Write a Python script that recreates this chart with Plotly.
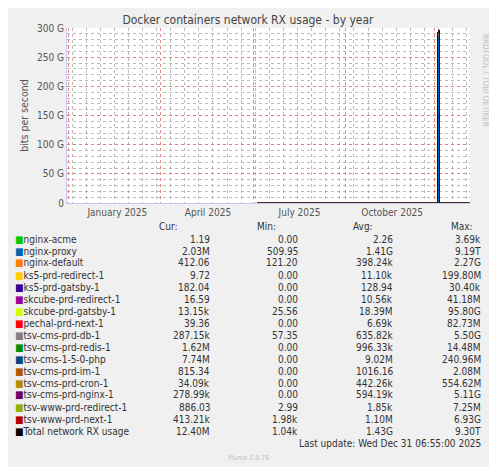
import plotly.graph_objects as go

# Munin "by year" graph: 400 days ending at last update
x_start = "2024-11-26"
x_end = "2025-12-31 06:55"

names = ["nginx-acme", "nginx-proxy", "nginx-default", "ks5-prd-redirect-1",
         "ks5-prd-gatsby-1", "skcube-prd-redirect-1", "skcube-prd-gatsby-1",
         "pechal-prd-next-1", "tsv-cms-prd-db-1", "tsv-cms-prd-redis-1",
         "tsv-cms-1-5-0-php", "tsv-cms-prd-im-1", "tsv-cms-prd-cron-1",
         "tsv-cms-prd-nginx-1", "tsv-www-prd-redirect-1", "tsv-www-prd-next-1"]
colors = ["#00CC00", "#0066B3", "#FF8000", "#FFCC00", "#330099", "#990099",
          "#CCFF00", "#FF0000", "#808080", "#008F00", "#00487D", "#B35A00",
          "#B38F00", "#6B006B", "#8FB300", "#B30000"]
cur = ["1.19", "2.03M", "412.06", "9.72", "182.04", "16.59", "13.15k", "39.36",
       "287.15k", "1.62M", "7.74M", "815.34", "34.09k", "278.99k", "886.03",
       "413.21k", "12.40M"]
mins = ["0.00", "509.95", "121.20", "0.00", "0.00", "0.00", "25.56", "0.00",
        "57.35", "0.00", "0.00", "0.00", "0.00", "0.00", "2.99", "1.98k", "1.04k"]
avgs = ["2.26", "1.41G", "398.24k", "11.10k", "128.94", "10.56k", "18.39M",
        "6.69k", "635.82k", "996.33k", "9.02M", "1016.16", "442.26k",
        "594.19k", "1.85k", "1.10M", "1.43G"]
maxs = ["3.69k", "9.19T", "2.27G", "199.80M", "30.40k", "41.18M", "95.80G",
        "82.73M", "5.50G", "14.48M", "240.96M", "2.08M", "554.62M", "5.11G",
        "7.25M", "6.93G", "9.30T"]

# sampled points (bits/s); data only exists from early June 2025
dates = ["2025-06-03", "2025-11-26", "2025-11-28", "2025-11-29", "2025-11-30",
         "2025-12-01", "2025-12-02", "2025-12-31"]
proxy = [2.0e6, 2.0e6, 2.0e6, 286e9, 290e9, 2.0e6, 2.0e6, 2.0e6]
gatsby = [1.5e4, 1.5e4, 1.5e4, 4e9, 4e9, 1.5e4, 1.5e4, 1.3e4]
others = [1.0e7, 1.0e7, 1.0e7, 2e9, 2e9, 1.0e7, 1.0e7, 1.0e7]
total = [p + g + o for p, g, o in zip(proxy, gatsby, others)]

series = {"nginx-proxy": proxy, "skcube-prd-gatsby-1": gatsby,
          "tsv-cms-1-5-0-php": others}

fig = go.Figure()
for n, c in zip(names, colors):
    vals = series.get(n, [0] * len(dates))
    fig.add_trace(go.Scatter(x=dates, y=vals, name=n, mode="lines",
                             line=dict(width=0.5, color=c, shape="hv"),
                             fillcolor=c, stackgroup="a", showlegend=False))
fig.add_trace(go.Scatter(x=dates, y=total, mode="lines", showlegend=False,
                         line=dict(width=0.8, color="black", shape="hv")))

red_grid = ["2024-11-27", "2025-02-27", "2025-05-30", "2025-08-30", "2025-11-26"]
label_dates = ["2025-01-15", "2025-04-15", "2025-07-15", "2025-10-15"]
label_text = ["January 2025", "April 2025", "July 2025", "October 2025"]

# page has an 8px body margin; layout numbers below are in screenshot pixels
OFF = 8
W, H = 497, 467
L, R, T, B = 67 - OFF, W - 470 + OFF, 28 - OFF, H - 203 + OFF

FONT = "DejaVu Sans Condensed, DejaVu Sans"
dot_red = "rgba(230,120,120,0.9)"
dot_gray = "rgba(170,170,170,0.8)"
fig.update_layout(
    width=W, height=H,
    paper_bgcolor="#F0F0F0", plot_bgcolor="white",
    margin=dict(l=L, r=R, t=T, b=B, autoexpand=False),
    font=dict(family=FONT, size=10, color="#555"),
    title=dict(text="Docker containers network RX usage - by year",
               x=(248 - OFF) / W, xanchor="center", y=1 - (20 - OFF) / H,
               yanchor="middle", font=dict(size=12, color="#444")),
    xaxis=dict(type="date", range=[x_start, x_end], tickvals=label_dates,
               ticktext=label_text, showgrid=False, ticks="", automargin=False,
               minor=dict(dtick=14 * 86400000, showgrid=True, gridcolor=dot_gray,
                          griddash="dot", gridwidth=1),
               showline=True, linecolor="#C8C8F0", zeroline=False),
    xaxis2=dict(type="date", range=[x_start, x_end], overlaying="x",
                tickvals=red_grid, showticklabels=False, showgrid=True,
                automargin=False,
                gridcolor=dot_red, griddash="dot", gridwidth=1, ticks=""),
    yaxis=dict(range=[0, 300e9], tickvals=[0, 50e9, 100e9, 150e9, 200e9, 250e9, 300e9],
               ticktext=["0", "50 G", "100 G", "150 G", "200 G", "250 G", "300 G"],
               showgrid=True, gridcolor=dot_red, griddash="dot", ticks="",
               automargin=False,
               minor=dict(dtick=10e9, showgrid=True, gridcolor=dot_gray, griddash="dot"),
               showline=True, linecolor="#C8C8F0", zeroline=False,
               title=dict(text="bits per second", font=dict(size=10.5, color="#555"),
                          standoff=6)),
)
# dummy trace to activate xaxis2
fig.add_trace(go.Scatter(x=[x_start], y=[None], xaxis="x2", showlegend=False))

ann = []
ann.append(dict(text="RRDTOOL / TOBI OETIKER", x=486, y=80, textangle=90,
                font=dict(size=8, color="#C0C0C0", family=FONT)))
for txt, xp in [("Cur:", 180), ("Min:", 278), ("Avg:", 375), ("Max:", 475)]:
    ann.append(dict(text=txt, x=xp, y=226, xanchor="right"))
rows = names + ["Total network RX usage"]
row_colors = colors + ["black"]
for i, (n, c) in enumerate(zip(rows, row_colors)):
    yp = 239 + i * 12
    ann.append(dict(text=f"<span style='color:{c}'>■</span>{n}", x=13, y=yp,
                    xanchor="left"))
    ann.append(dict(text=cur[i], x=212, y=yp, xanchor="right"))
    ann.append(dict(text=mins[i], x=300, y=yp, xanchor="right"))
    ann.append(dict(text=avgs[i], x=395, y=yp, xanchor="right"))
    ann.append(dict(text=maxs[i], x=483, y=yp, xanchor="right"))
ann.append(dict(text="Last update: Wed Dec 31 06:55:00 2025", x=483, y=443,
                xanchor="right"))
ann.append(dict(text="Munin 2.0.76", x=248, y=458, font=dict(size=7, color="#C0C0C0",
                                                           family=FONT)))
pw, ph = W - L - R, H - T - B
for a in ann:
    a.setdefault("xanchor", "center")
    a.update(xref="paper", yref="paper", showarrow=False, yanchor="middle")
    a["x"] = (a["x"] - OFF - L) / pw
    a["y"] = 1 - (a["y"] - OFF - T) / ph
    a.setdefault("font", dict(size=10, color="#333", family=FONT))
fig.update_layout(annotations=ann)

fig.write_html("out.html")
